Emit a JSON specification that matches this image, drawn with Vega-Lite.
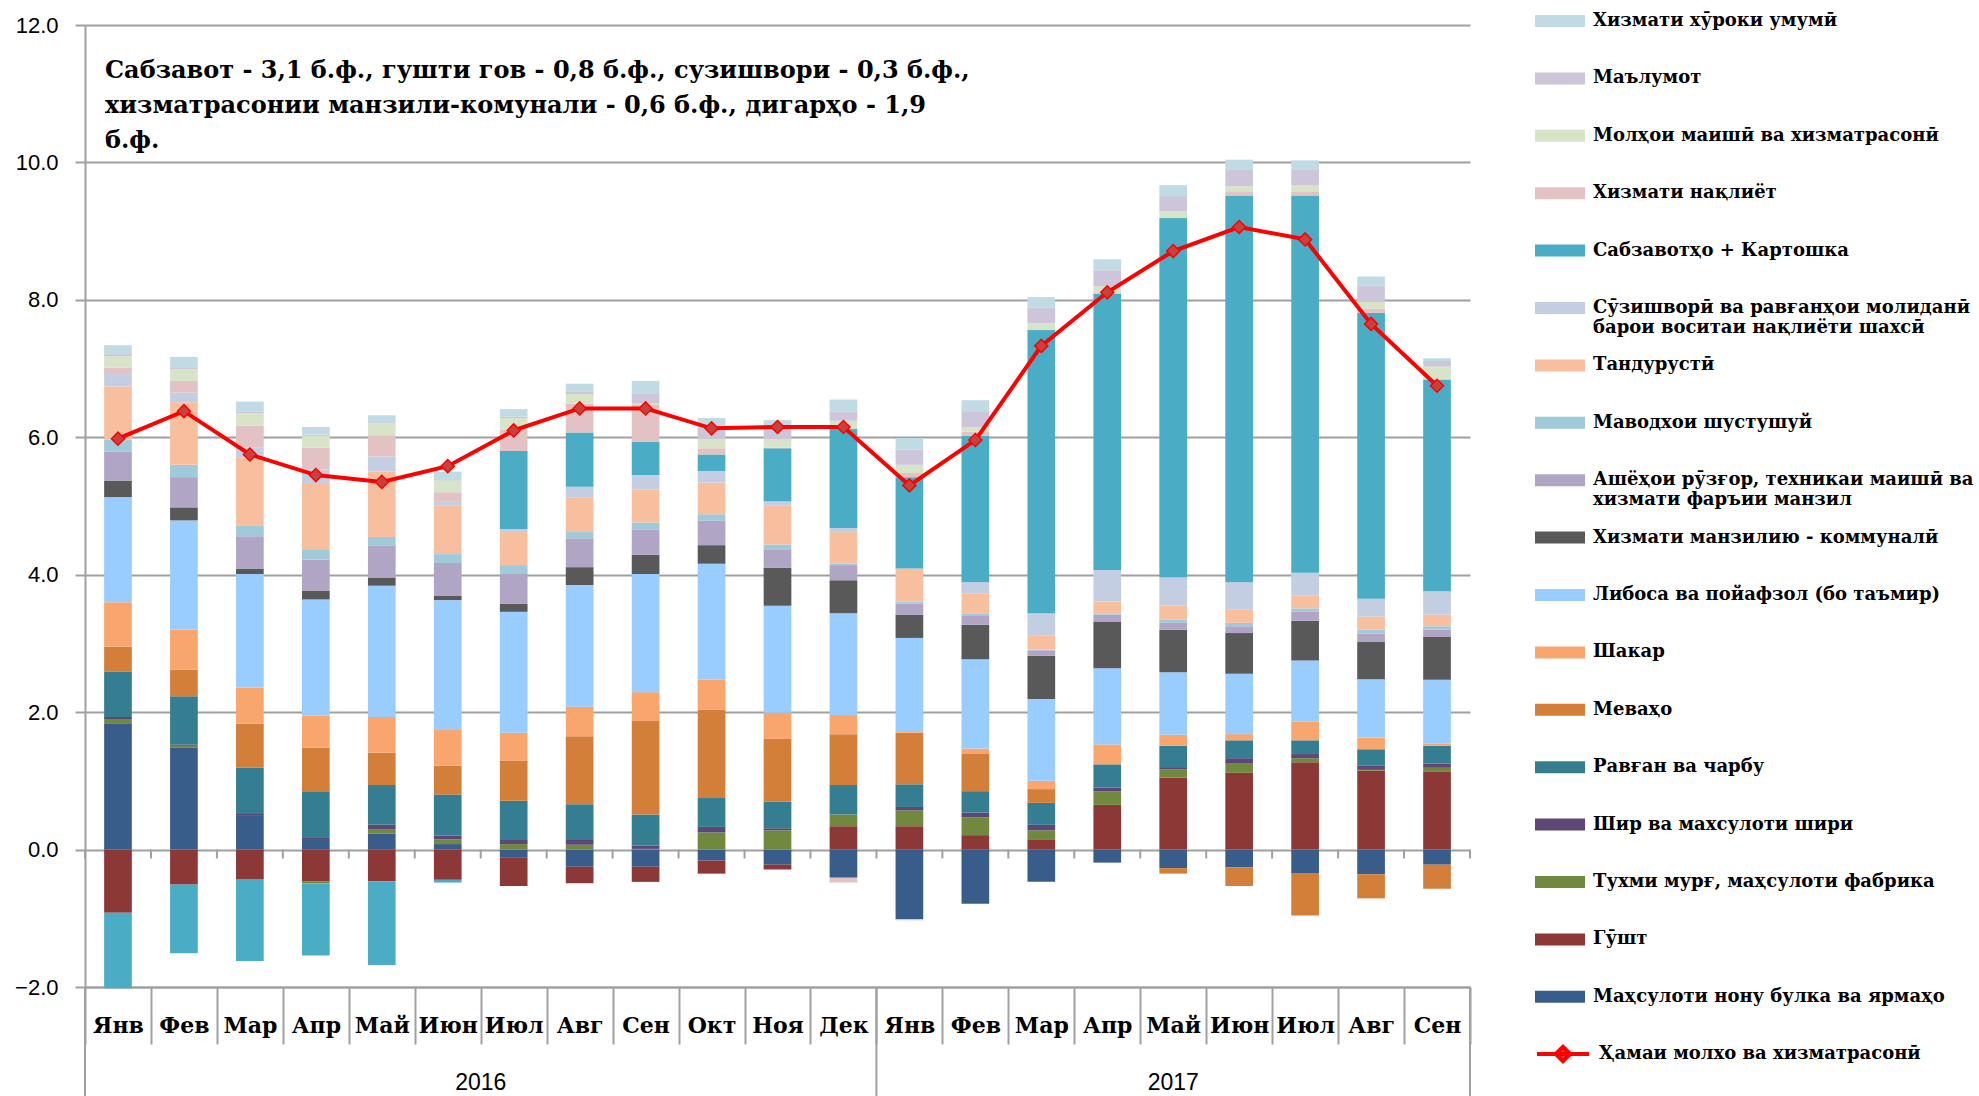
{
  "$schema": "https://vega.github.io/schema/vega-lite/v6.json",
  "width": 1385,
  "height": 962,
  "autosize": {"type": "none"},
  "padding": {"left": 85, "top": 25, "right": 509, "bottom": 109},
  "background": "white",
  "config": {"view": {"stroke": null}, "axis": {"labelColor": "#000000"}},
  "datasets": {
    "series": [
      {"key": "s01", "name": "Маҳсулоти нону булка ва ярмаҳо"},
      {"key": "s02", "name": "Гӯшт"},
      {"key": "s03", "name": "Тухми мурғ,  маҳсулоти фабрика"},
      {"key": "s04", "name": "Шир ва махсулоти шири"},
      {"key": "s05", "name": "Равған ва чарбу"},
      {"key": "s06", "name": "Меваҳо"},
      {"key": "s07", "name": "Шакар"},
      {"key": "s08", "name": "Либоса ва  пойафзол (бо таъмир)"},
      {"key": "s09", "name": "Хизмати  манзилию - коммуналӣ"},
      {"key": "s10", "name": "Ашёҳои рӯзғор, техникаи маишӣ ва хизмати фаръии манзил"},
      {"key": "s11", "name": "Маводхои шустушуй"},
      {"key": "s12", "name": "Тандурустӣ"},
      {"key": "s13", "name": "Сӯзишворӣ ва равғанҳои молиданӣ барои воситаи нақлиёти шахсӣ"},
      {"key": "s14", "name": "Сабзавотҳо + Картошка"},
      {"key": "s15", "name": "Хизмати нақлиёт"},
      {"key": "s16", "name": "Молҳои маишӣ ва хизматрасонӣ"},
      {"key": "s17", "name": "Маълумот"},
      {"key": "s18", "name": "Хизмати хӯроки умумӣ"}
    ],
    "bars": [
      {"p": "Янв 2016", "s01": 1.84, "s02": -0.92, "s03": 0.06, "s04": 0.03, "s05": 0.66, "s06": 0.36, "s07": 0.65, "s08": 1.53, "s09": 0.24, "s10": 0.42, "s11": 0.18, "s12": 0.77, "s13": 0.18, "s14": -1.10, "s15": 0.09, "s16": 0.17, "s17": 0.03, "s18": 0.13},
      {"p": "Фев 2016", "s01": 1.48, "s02": -0.51, "s03": 0.03, "s04": 0.02, "s05": 0.70, "s06": 0.39, "s07": 0.58, "s08": 1.59, "s09": 0.19, "s10": 0.44, "s11": 0.18, "s12": 0.91, "s13": 0.14, "s14": -1.00, "s15": 0.17, "s16": 0.17, "s17": 0.03, "s18": 0.15},
      {"p": "Мар 2016", "s01": 0.49, "s02": -0.43, "s03": 0, "s04": 0.04, "s05": 0.66, "s06": 0.64, "s07": 0.53, "s08": 1.65, "s09": 0.08, "s10": 0.47, "s11": 0.16, "s12": 0.99, "s13": 0.14, "s14": -1.19, "s15": 0.32, "s16": 0.18, "s17": 0.02, "s18": 0.15},
      {"p": "Апр 2016", "s01": 0.14, "s02": -0.46, "s03": -0.03, "s04": 0.04, "s05": 0.67, "s06": 0.63, "s07": 0.47, "s08": 1.69, "s09": 0.13, "s10": 0.45, "s11": 0.14, "s12": 0.96, "s13": 0.21, "s14": -1.05, "s15": 0.32, "s16": 0.17, "s17": 0.02, "s18": 0.11},
      {"p": "Май 2016", "s01": 0.23, "s02": -0.46, "s03": 0.06, "s04": 0.07, "s05": 0.58, "s06": 0.47, "s07": 0.52, "s08": 1.91, "s09": 0.12, "s10": 0.46, "s11": 0.13, "s12": 0.95, "s13": 0.22, "s14": -1.22, "s15": 0.31, "s16": 0.17, "s17": 0.02, "s18": 0.10},
      {"p": "Июн 2016", "s01": 0.08, "s02": -0.44, "s03": 0.07, "s04": 0.05, "s05": 0.60, "s06": 0.42, "s07": 0.52, "s08": 1.89, "s09": 0.06, "s10": 0.48, "s11": 0.13, "s12": 0.71, "s13": 0.05, "s14": -0.04, "s15": 0.14, "s16": 0.17, "s17": 0.02, "s18": 0.11},
      {"p": "Июл 2016", "s01": -0.12, "s02": -0.41, "s03": 0.08, "s04": 0.06, "s05": 0.57, "s06": 0.58, "s07": 0.41, "s08": 1.76, "s09": 0.12, "s10": 0.43, "s11": 0.13, "s12": 0.48, "s13": 0.04, "s14": 1.14, "s15": 0.31, "s16": 0.17, "s17": 0.02, "s18": 0.11},
      {"p": "Авг 2016", "s01": -0.25, "s02": -0.24, "s03": 0.07, "s04": 0.07, "s05": 0.52, "s06": 0.99, "s07": 0.43, "s08": 1.77, "s09": 0.26, "s10": 0.42, "s11": 0.09, "s12": 0.50, "s13": 0.16, "s14": 0.79, "s15": 0.42, "s16": 0.14, "s17": 0.03, "s18": 0.12},
      {"p": "Сен 2016", "s01": -0.25, "s02": -0.22, "s03": 0.01, "s04": 0.05, "s05": 0.45, "s06": 1.36, "s07": 0.42, "s08": 1.72, "s09": 0.28, "s10": 0.37, "s11": 0.10, "s12": 0.48, "s13": 0.21, "s14": 0.48, "s15": 0.54, "s16": 0.02, "s17": 0.14, "s18": 0.19},
      {"p": "Окт 2016", "s01": -0.16, "s02": -0.19, "s03": 0.25, "s04": 0.08, "s05": 0.42, "s06": 1.29, "s07": 0.43, "s08": 1.69, "s09": 0.27, "s10": 0.36, "s11": 0.09, "s12": 0.46, "s13": 0.17, "s14": 0.24, "s15": 0.09, "s16": 0.13, "s17": 0.17, "s18": 0.14},
      {"p": "Ноя 2016", "s01": -0.22, "s02": -0.07, "s03": 0.28, "s04": 0.03, "s05": 0.39, "s06": 0.91, "s07": 0.38, "s08": 1.56, "s09": 0.55, "s10": 0.27, "s11": 0.07, "s12": 0.57, "s13": 0.06, "s14": 0.77, "s15": 0.01, "s16": 0.12, "s17": 0.17, "s18": 0.11},
      {"p": "Дек 2016", "s01": -0.41, "s02": 0.34, "s03": 0.17, "s04": 0, "s05": 0.43, "s06": 0.74, "s07": 0.28, "s08": 1.48, "s09": 0.48, "s10": 0.22, "s11": 0.02, "s12": 0.46, "s13": 0.06, "s14": 1.44, "s15": -0.07, "s16": 0.12, "s17": 0.13, "s18": 0.18},
      {"p": "Янв 2017", "s01": -1.01, "s02": 0.34, "s03": 0.23, "s04": 0.05, "s05": 0.33, "s06": 0.75, "s07": 0.01, "s08": 1.37, "s09": 0.34, "s10": 0.16, "s11": 0.03, "s12": 0.48, "s13": -0.02, "s14": 1.33, "s15": 0.06, "s16": 0.12, "s17": 0.22, "s18": 0.17},
      {"p": "Фев 2017", "s01": -0.79, "s02": 0.21, "s03": 0.26, "s04": 0.07, "s05": 0.31, "s06": 0.54, "s07": 0.08, "s08": 1.30, "s09": 0.50, "s10": 0.14, "s11": 0.02, "s12": 0.30, "s13": 0.16, "s14": 2.13, "s15": 0.06, "s16": 0.07, "s17": 0.23, "s18": 0.16},
      {"p": "Мар 2017", "s01": -0.47, "s02": 0.15, "s03": 0.13, "s04": 0.08, "s05": 0.32, "s06": 0.20, "s07": 0.12, "s08": 1.19, "s09": 0.63, "s10": 0.08, "s11": 0.01, "s12": 0.21, "s13": 0.32, "s14": 4.12, "s15": 0, "s16": 0.10, "s17": 0.23, "s18": 0.15},
      {"p": "Апр 2017", "s01": -0.19, "s02": 0.65, "s03": 0.20, "s04": 0.05, "s05": 0.34, "s06": 0, "s07": 0.29, "s08": 1.11, "s09": 0.68, "s10": 0.10, "s11": 0.01, "s12": 0.18, "s13": 0.46, "s14": 4.02, "s15": 0.02, "s16": 0.09, "s17": 0.23, "s18": 0.16},
      {"p": "Май 2017", "s01": -0.27, "s02": 1.05, "s03": 0.12, "s04": 0.03, "s05": 0.31, "s06": -0.08, "s07": 0.16, "s08": 0.91, "s09": 0.62, "s10": 0.10, "s11": 0.05, "s12": 0.20, "s13": 0.41, "s14": 5.23, "s15": 0, "s16": 0.10, "s17": 0.22, "s18": 0.16},
      {"p": "Июн 2017", "s01": -0.26, "s02": 1.12, "s03": 0.13, "s04": 0.08, "s05": 0.26, "s06": -0.27, "s07": 0.09, "s08": 0.88, "s09": 0.59, "s10": 0.10, "s11": 0.05, "s12": 0.19, "s13": 0.40, "s14": 5.63, "s15": 0.06, "s16": 0.07, "s17": 0.24, "s18": 0.15},
      {"p": "Июл 2017", "s01": -0.35, "s02": 1.27, "s03": 0.06, "s04": 0.06, "s05": 0.20, "s06": -0.61, "s07": 0.27, "s08": 0.89, "s09": 0.58, "s10": 0.13, "s11": 0.05, "s12": 0.19, "s13": 0.33, "s14": 5.49, "s15": 0.05, "s16": 0.10, "s17": 0.22, "s18": 0.14},
      {"p": "Авг 2017", "s01": -0.36, "s02": 1.15, "s03": 0.01, "s04": 0.06, "s05": 0.24, "s06": -0.35, "s07": 0.17, "s08": 0.85, "s09": 0.54, "s10": 0.12, "s11": 0.06, "s12": 0.19, "s13": 0.26, "s14": 4.16, "s15": 0.06, "s16": 0.10, "s17": 0.23, "s18": 0.14},
      {"p": "Сен 2017", "s01": -0.22, "s02": 1.13, "s03": 0.06, "s04": 0.06, "s05": 0.26, "s06": -0.35, "s07": 0.03, "s08": 0.93, "s09": 0.63, "s10": 0.10, "s11": 0.05, "s12": 0.17, "s13": 0.34, "s14": 3.08, "s15": 0, "s16": 0.19, "s17": 0.08, "s18": 0.04}
    ],
    "tot": [
      {"p": "Янв 2016", "v": 5.98}, {"p": "Фев 2016", "v": 6.38}, {"p": "Мар 2016", "v": 5.75},
      {"p": "Апр 2016", "v": 5.45}, {"p": "Май 2016", "v": 5.35}, {"p": "Июн 2016", "v": 5.58},
      {"p": "Июл 2016", "v": 6.10}, {"p": "Авг 2016", "v": 6.42}, {"p": "Сен 2016", "v": 6.42},
      {"p": "Окт 2016", "v": 6.13}, {"p": "Ноя 2016", "v": 6.15}, {"p": "Дек 2016", "v": 6.15},
      {"p": "Янв 2017", "v": 5.30}, {"p": "Фев 2017", "v": 5.96}, {"p": "Мар 2017", "v": 7.33},
      {"p": "Апр 2017", "v": 8.11}, {"p": "Май 2017", "v": 8.71}, {"p": "Июн 2017", "v": 9.06},
      {"p": "Июл 2017", "v": 8.88}, {"p": "Авг 2017", "v": 7.65}, {"p": "Сен 2017", "v": 6.75}
    ]
  },
  "layer": [
    {
      "data": {"name": "bars"},
      "transform": [
        {"fold": ["s01", "s02", "s03", "s04", "s05", "s06", "s07", "s08", "s09", "s10", "s11", "s12", "s13", "s14", "s15", "s16", "s17", "s18"], "as": ["key", "v"]},
        {"lookup": "key", "from": {"data": {"name": "series"}, "key": "key", "fields": ["name"]}}
      ],
      "mark": {"type": "bar", "width": {"band": 0.42}},
      "encoding": {
        "x": {
          "field": "p", "type": "nominal", "sort": null,
          "scale": {
            "domain": ["Янв 2016", "Фев 2016", "Мар 2016", "Апр 2016", "Май 2016", "Июн 2016", "Июл 2016", "Авг 2016", "Сен 2016", "Окт 2016", "Ноя 2016", "Дек 2016", "Янв 2017", "Фев 2017", "Мар 2017", "Апр 2017", "Май 2017", "Июн 2017", "Июл 2017", "Авг 2017", "Сен 2017"],
            "paddingInner": 0, "paddingOuter": 0
          },
          "axis": {
            "title": null, "labelExpr": "split(datum.label, ' ')[0]", "labelAngle": 0,
            "tickBand": "extent", "tickSize": 57, "tickColor": "#A0A0A0", "tickWidth": 2,
            "domainColor": "#A0A0A0", "domainWidth": 2, "grid": false,
            "labelFont": "DejaVu Serif", "labelFontWeight": "bold", "labelFontSize": 22,
            "labelPadding": -19, "labelBaseline": "middle"
          }
        },
        "y": {
          "field": "v", "type": "quantitative", "stack": "zero",
          "scale": {"domain": [-2, 12], "nice": false, "zero": false},
          "axis": {
            "title": null, "values": [-2, 0, 2, 4, 6, 8, 10, 12], "format": ".1f",
            "grid": true, "gridColor": "#A0A0A0", "gridWidth": 2,
            "domainColor": "#A0A0A0", "domainWidth": 2, "tickColor": "#A0A0A0", "tickWidth": 2, "tickSize": 10,
            "labelFont": "Liberation Sans", "labelFontSize": 22, "labelPadding": 17
          }
        },
        "color": {
          "field": "name", "type": "nominal",
          "scale": {
            "domain": ["Хизмати хӯроки умумӣ", "Маълумот", "Молҳои маишӣ ва хизматрасонӣ", "Хизмати нақлиёт", "Сабзавотҳо + Картошка", "Сӯзишворӣ ва равғанҳои молиданӣ барои воситаи нақлиёти шахсӣ", "Тандурустӣ", "Маводхои шустушуй", "Ашёҳои рӯзғор, техникаи маишӣ ва хизмати фаръии манзил", "Хизмати  манзилию - коммуналӣ", "Либоса ва  пойафзол (бо таъмир)", "Шакар", "Меваҳо", "Равған ва чарбу", "Шир ва махсулоти шири", "Тухми мурғ,  маҳсулоти фабрика", "Гӯшт", "Маҳсулоти нону булка ва ярмаҳо"],
            "range": ["#C1DBE5", "#CDC6DA", "#D8E4C8", "#E2C2C3", "#4BACC6", "#C3CEE2", "#F8BF9F", "#A0C9D9", "#B1A5C6", "#595959", "#99CCFF", "#F8A66E", "#D37F3A", "#357D91", "#5C4776", "#71893F", "#8C3836", "#385D8A"]
          },
          "legend": {
            "title": null, "orient": "none", "legendX": 1450, "legendY": -29,
            "gridAlign": "all",
            "symbolType": "M-1,-0.24H1V0.24H-1Z", "symbolSize": 2500, "symbolStrokeWidth": 0,
            "labelFont": "DejaVu Serif", "labelFontWeight": "bold", "labelFontSize": 18, "labelColor": "#000000",
            "labelLimit": 520, "labelOffset": 8, "rowPadding": 3.4,
            "labelExpr": "datum.label == 'Сӯзишворӣ ва равғанҳои молиданӣ барои воситаи нақлиёти шахсӣ' ? ['Сӯзишворӣ ва равғанҳои молиданӣ', 'барои воситаи  нақлиёти шахсӣ'] : datum.label == 'Ашёҳои рӯзғор, техникаи маишӣ ва хизмати фаръии манзил' ? ['Ашёҳои рӯзғор, техникаи маишӣ ва', 'хизмати фаръии манзил'] : datum.label"
          }
        },
        "order": {"field": "key", "type": "ordinal", "sort": "ascending"}
      }
    },
    {
      "data": {"name": "tot"},
      "mark": {"type": "rule", "color": "#A0A0A0", "strokeWidth": 2},
      "encoding": {
        "x": {"field": "p", "type": "nominal", "bandPosition": 0},
        "y": {"datum": 0, "type": "quantitative"},
        "y2": {"datum": -0.13}
      }
    },
    {
      "data": {"values": [{"p": "Янв 2016"}, {"p": "Янв 2017"}]},
      "mark": {"type": "rule", "color": "#A0A0A0", "strokeWidth": 2},
      "encoding": {
        "x": {"field": "p", "type": "nominal", "bandPosition": 0},
        "y": {"datum": -2, "type": "quantitative"},
        "y2": {"datum": -3.8}
      }
    },
    {
      "data": {"values": [{"p": "Сен 2017"}]},
      "mark": {"type": "rule", "color": "#A0A0A0", "strokeWidth": 2},
      "encoding": {
        "x": {"field": "p", "type": "nominal", "bandPosition": 1},
        "y": {"datum": -2, "type": "quantitative"},
        "y2": {"datum": -3.8}
      }
    },
    {
      "data": {"values": [{"p": "Сен 2017"}]},
      "mark": {"type": "rule", "color": "#A0A0A0", "strokeWidth": 2},
      "encoding": {
        "x": {"field": "p", "type": "nominal", "bandPosition": 1},
        "y": {"datum": 0, "type": "quantitative"},
        "y2": {"datum": -0.13}
      }
    },
    {
      "data": {"values": [{"p": "Июл 2016", "t": "2016"}]},
      "mark": {"type": "text", "font": "Liberation Sans", "fontSize": 23, "align": "center", "baseline": "middle", "color": "#000000"},
      "encoding": {
        "x": {"field": "p", "type": "nominal", "bandPosition": 0},
        "y": {"datum": -3.39, "type": "quantitative"},
        "text": {"field": "t"}
      }
    },
    {
      "data": {"values": [{"p": "Май 2017", "t": "2017"}]},
      "mark": {"type": "text", "font": "Liberation Sans", "fontSize": 23, "align": "center", "baseline": "middle", "color": "#000000"},
      "encoding": {
        "x": {"field": "p", "type": "nominal", "bandPosition": 0.5},
        "y": {"datum": -3.39, "type": "quantitative"},
        "text": {"field": "t"}
      }
    },
    {
      "data": {"values": [{"p": "Янв 2016"}]},
      "mark": {"type": "text", "font": "DejaVu Serif", "fontWeight": "bold", "fontSize": 24, "align": "left", "baseline": "top", "lineHeight": 35, "dx": 20, "color": "#000000"},
      "encoding": {
        "x": {"field": "p", "type": "nominal", "bandPosition": 0},
        "y": {"datum": 11.51, "type": "quantitative"},
        "text": {"value": ["Сабзавот -  3,1 б.ф., гушти гов - 0,8 б.ф., сузишвори - 0,3 б.ф.,", "хизматрасонии манзили-комунали - 0,6 б.ф., дигарҳо - 1,9", "б.ф."]}
      }
    },
    {
      "data": {"name": "tot"},
      "mark": {"type": "line", "strokeWidth": 4},
      "encoding": {
        "x": {"field": "p", "type": "nominal"},
        "y": {"field": "v", "type": "quantitative"},
        "stroke": {
          "datum": "Ҳамаи молхо ва хизматрасонӣ",
          "scale": {"range": ["#FF0000"]},
          "legend": {
            "title": null, "orient": "none", "legendX": 1450, "legendY": 1001,
            "symbolType": "M-1,0H1M-0.28,0L0,-0.28L0.28,0L0,0.28Z", "symbolSize": 2704, "symbolStrokeWidth": 4,
            "symbolFillColor": "#C8423D",
            "labelFont": "DejaVu Serif", "labelFontWeight": "bold", "labelFontSize": 18, "labelColor": "#000000",
            "labelLimit": 520, "labelOffset": 8
          }
        }
      }
    },
    {
      "data": {"name": "tot"},
      "mark": {"type": "point", "shape": "diamond", "filled": true, "size": 170, "fill": "#C8423D", "stroke": "#FF0000", "strokeWidth": 1.5, "opacity": 1},
      "encoding": {
        "x": {"field": "p", "type": "nominal"},
        "y": {"field": "v", "type": "quantitative"}
      }
    }
  ]
}
